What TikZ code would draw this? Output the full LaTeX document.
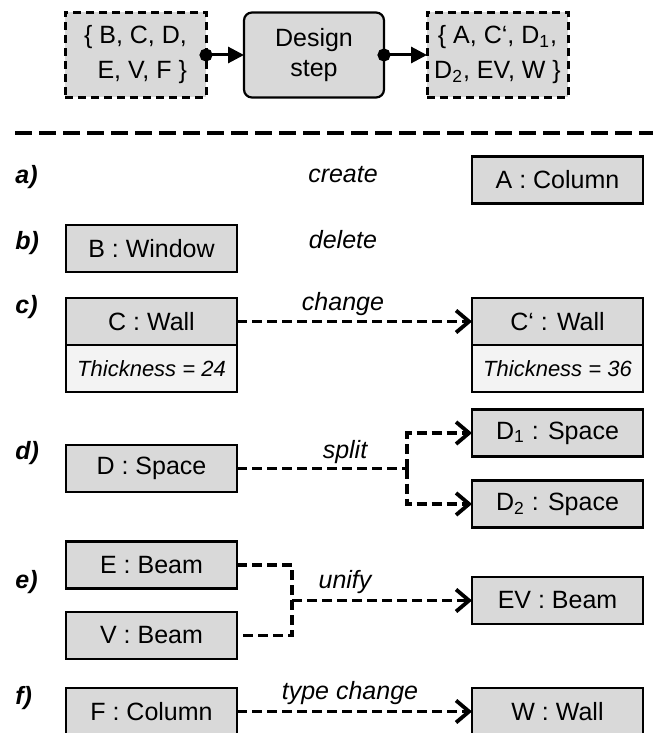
\documentclass[tikz,border=0pt]{standalone}
\usepackage{fontspec}
\setmainfont{Liberation Sans}
\usepackage{tikz}
\usetikzlibrary{
  arrows.meta,
  positioning
}
\definecolor{dsFill}{HTML}{D9D9D9}
\definecolor{dsAttr}{HTML}{F3F3F3}
\definecolor{dsLine}{HTML}{000000}
\tikzset{
  objbox/.style={
    draw=dsLine, line width=1.1pt, fill=dsFill, minimum width=85.5pt, minimum height=23.5pt,
    inner sep=0pt, outer sep=0pt, font=\fontsize{12.5}{14}\selectfont
  },
  attrbox/.style={objbox, fill=dsAttr, font=\fontsize{11}{13}\selectfont\itshape},
  setbox/.style={
    draw=dsLine, line width=1.5pt, dash pattern=on 4pt off 2.5pt, fill=dsFill,
    minimum width=70.5pt, minimum height=42.5pt, inner sep=0pt, outer sep=0pt,
    font=\fontsize{12.5}{17.5}\selectfont
  },
  stepbox/.style={
    draw=dsLine, line width=1.1pt, rounded corners=4pt, fill=dsFill, align=center,
    minimum width=70pt, minimum height=42.5pt, inner sep=0pt, outer sep=0pt,
    font=\fontsize{12.5}{15}\selectfont
  },
  oplabel/.style={font=\fontsize{12.5}{14}\selectfont\itshape, inner sep=0pt},
  rowlabel/.style={font=\fontsize{12.5}{14}\selectfont\bfseries\itshape, anchor=west, inner sep=0pt},
  setflow/.style={
    {Circle[length=6.5pt]}-{Triangle[length=8pt,width=8pt]}, line width=1.5pt,
    shorten <=-3.25pt
  },
  modline/.style={line width=1.6pt, dash pattern=on 5pt off 2.5pt},
  modflow/.style={modline, -{Straight Barb[length=6.5pt,width=11pt,line width=1.9pt]}},
  separator/.style={line width=1.9pt, dash pattern=on 8.5pt off 3.5pt}
}

\begin{document}
\begin{tikzpicture}[x=0.5pt, y=-0.5pt]
  \useasboundingbox (0,0) rectangle (655,733);

  \node[stepbox] (step) at (314,55) {Design\\step};
  \node[setbox, align=right, left=19pt of step] (inset) {\{ B, C, D,\\E, V, F \}};
  \node[setbox, align=center, right=21.5pt of step] (outset)
    {\{ A, C‘, D\textsubscript{1},\\D\textsubscript{2}, EV, W \}};
  \draw[setflow] (inset.east) -- (step.west);
  \draw[setflow] (step.east) -- (outset.west);

  \coordinate (sepl) at (15,133);
  \coordinate (sepr) at (653,133);
  \draw[separator] (sepl) -- (sepr);

  \node[rowlabel] (la) at (15,177) {a)};
  \node[rowlabel] (lb) at (15,243) {b)};
  \node[rowlabel] (lc) at (15,307) {c)};
  \node[rowlabel] (ld) at (15,453) {d)};
  \node[rowlabel] (le) at (15,582) {e)};
  \node[rowlabel] (lf) at (15,698) {f)};

  \node[objbox] (A) at (557.5,180) {A : Column};
  \node[objbox] (B) at (151.5,248.5) {B : Window};
  \node[objbox] (C) at (151.5,321.5) {C : Wall};
  \node[attrbox, below=0pt of C] (Ct) {Thickness = 24};
  \node[objbox, right=117.5pt of C] (C2) {C‘ : Wall};
  \node[attrbox, below=0pt of C2] (C2t) {Thickness = 36};
  \node[objbox] (D) at (151.5,468.5) {D : Space};
  \node[objbox] (D1) at (557.5,433) {D\textsubscript{1} : Space};
  \node[objbox] (D2) at (557.5,504) {D\textsubscript{2} : Space};
  \node[objbox] (E) at (151.5,565) {E : Beam};
  \node[objbox] (V) at (151.5,635.5) {V : Beam};
  \node[objbox] (EV) at (557.5,600.5) {EV : Beam};
  \node[objbox] (F) at (151.5,711.5) {F : Column};
  \node[objbox, right=117.5pt of F] (W) {W : Wall};

  \node[oplabel] (create) at (343,175) {create};
  \node[oplabel] (delete) at (343,240) {delete};
  \node[oplabel] (chg) at (343,304) {change};
  \node[oplabel] (split) at (345,452) {split};
  \node[oplabel] (unify) at (345,582) {unify};
  \node[oplabel] (tchg) at (350,693) {type change};

  \draw[modflow] (C.east) -- (C2.west);

  \coordinate (sfork) at (407,468.5);
  \draw[modline] (D.east) -- (sfork);
  \draw[modflow] (sfork) |- (D1.west);
  \draw[modflow] (sfork) |- (D2.west);

  \coordinate (umerge) at (292,600.5);
  \draw[modline] (E.east) -| (umerge) |- (V.east);
  \draw[modflow] (umerge) -- (EV.west);

  \draw[modflow] (F.east) -- (W.west);
\end{tikzpicture}
\end{document}
